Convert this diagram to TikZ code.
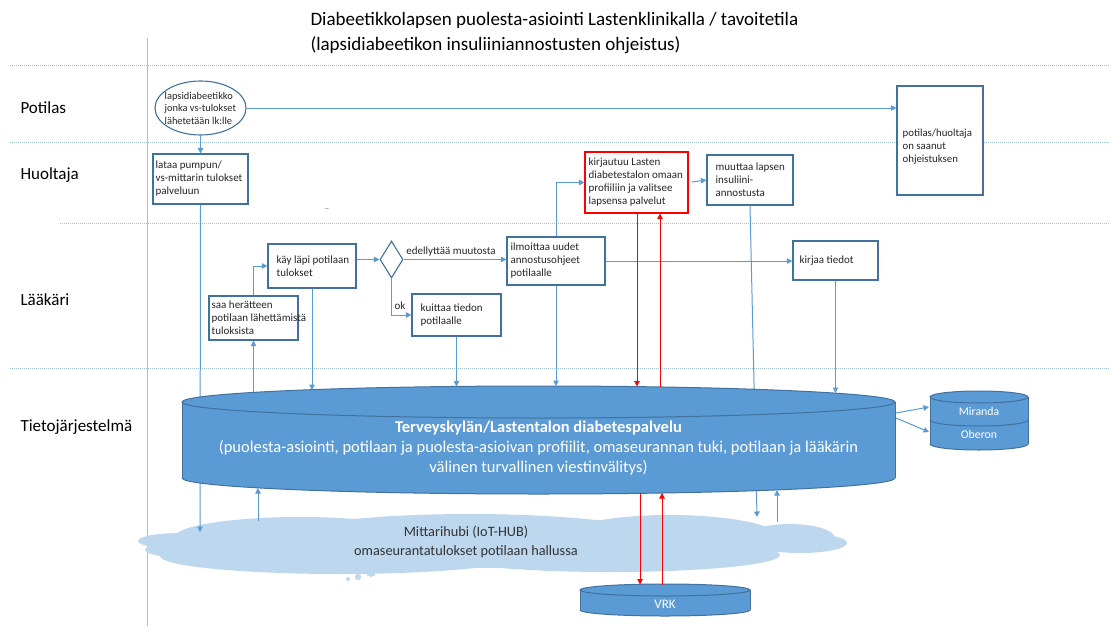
\documentclass[tikz,border=0pt]{standalone}
\usepackage{fontspec}
\setmainfont{Carlito}
\usetikzlibrary{arrows.meta,calc,shapes.geometric}
\definecolor{lanec}{HTML}{9DC3E6}
\definecolor{bxb}{HTML}{41719C}
\definecolor{arrowc}{HTML}{5B9BD5}
\definecolor{cylc}{HTML}{5B9BD5}
\definecolor{cylb}{HTML}{41719C}
\definecolor{cloudc}{HTML}{BDD7EE}
\definecolor{redc}{HTML}{FF0000}
\tikzset{
  lanesep/.style={draw=lanec, line width=1pt, dash pattern=on 1pt off 1pt},
  box/.style={draw=bxb, line width=1.1pt, fill=white, inner sep=0pt},
  boxtext/.style={anchor=west, align=left, inner sep=0pt, font=\fontsize{11}{13}\selectfont, text=black!85},
  flow/.style={draw=arrowc, line width=1pt, -{Triangle[length=5.5pt,width=5.5pt]}},
  redflow/.style={draw=redc, line width=1pt, -{Triangle[length=5.5pt,width=5.5pt]}},
  lanelabel/.style={anchor=west, font=\fontsize{17}{20}\selectfont},
  titletext/.style={anchor=west, font=\fontsize{19}{22}\selectfont},
  lbl/.style={font=\fontsize{11}{13}\selectfont, text=black!85},
  cyltext/.style={text=white, align=center},
}
\begin{document}
\begin{tikzpicture}[x=1pt,y=-1pt]
\useasboundingbox (0,0) rectangle (1115,626);

% title
\node[titletext] (title1) at (307,20) {Diabeetikkolapsen puolesta-asiointi Lastenklinikalla / tavoitetila};
\node[titletext] (title2) at (307,45) {(lapsidiabeetikon insuliiniannostusten ohjeistus)};

% lanes
\draw[lanesep] (10,65) -- (1110,65);
\draw[lanesep] (10,142) -- (1110,142);
\draw[lanesep] (60,223) -- (1110,223);
\draw[lanesep] (10,368) -- (1110,368);
\draw[draw=lanec, line width=0.9pt] (147,38) -- (147,626);

\node[lanelabel] (lpot) at (17,108) {Potilas};
\node[lanelabel] (lhuo) at (17,175) {Huoltaja};
\node[lanelabel] (llaa) at (17,300) {Lääkäri};
\node[lanelabel] (ltie) at (17,427) {Tietojärjestelmä};

% cloud
\begin{scope}[fill=cloudc]
\fill (180,541) ellipse [x radius=42, y radius=8];
\fill (300,537) ellipse [x radius=125, y radius=20];
\fill (470,541) ellipse [x radius=200, y radius=27];
\fill (670,538) ellipse [x radius=110, y radius=23];
\fill (790,538) ellipse [x radius=45, y radius=14];
\fill (800,543) ellipse [x radius=47, y radius=10];
\fill (340,556) ellipse [x radius=180, y radius=18];
\fill (610,555) ellipse [x radius=170, y radius=17];
\fill (220,550) ellipse [x radius=75, y radius=10];
\fill (348,579) circle [radius=2];
\fill (358,577) circle [radius=3.2];
\fill (371,572) circle [radius=5];
\end{scope}
\node[font=\fontsize{14.3}{19}\selectfont, align=center, text=black!80] (cloudtxt) at (466,542) {Mittarihubi (IoT-HUB)\\omaseurantatulokset potilaan hallussa};

% boxes
\node[box, ellipse, minimum width=91pt, minimum height=54pt] (ell) at (200.5,108) {};
\node[boxtext, font=\fontsize{10.4}{12.5}\selectfont] (ellT) at ([xshift=10pt]ell.west) {lapsidiabeetikko\\jonka vs-tulokset\\lähetetään lk:lle};
\node[box, minimum width=86pt, minimum height=109pt] (pot) at (940,140.5) {};
\node[boxtext, font=\fontsize{10.8}{13}\selectfont] (potT) at ([xshift=6pt,yshift=-6pt]pot.west) {potilas/huoltaja\\on saanut\\ohjeistuksen};
\node[box, minimum width=95pt, minimum height=50pt] (lataa) at (200.5,179) {};
\node[boxtext] (lataaT) at ([xshift=3pt]lataa.west) {lataa pumpun/\\vs-mittarin tulokset\\palveluun};
\node[box, draw=redc, minimum width=103pt, minimum height=61pt] (kirj) at (636.5,182.5) {};
\node[boxtext] (kirjT) at ([xshift=4pt]kirj.west) {kirjautuu Lasten\\diabetestalon omaan\\profiiliin ja valitsee\\lapsensa palvelut};
\node[box, minimum width=86pt, minimum height=50pt] (muut) at (750,180) {};
\node[boxtext] (muutT) at ([xshift=9pt]muut.west) {muuttaa lapsen\\insuliini-\\annostusta};
\node[box, minimum width=88pt, minimum height=44pt] (kay) at (312,266) {};
\node[boxtext] (kayT) at ([xshift=9pt]kay.west) {käy läpi potilaan\\tulokset};
\node[box, diamond, minimum width=23pt, minimum height=37pt] (dia) at (391.5,259.5) {};
\node[box, minimum width=89pt, minimum height=42pt] (kuit) at (456.5,315) {};
\node[boxtext] (kuitT) at ([xshift=9pt]kuit.west) {kuittaa tiedon\\potilaalle};
\node[box, minimum width=89pt, minimum height=44pt] (saa) at (253.5,318) {};
\node[boxtext] (saaT) at ([xshift=3pt]saa.west) {saa herätteen\\potilaan lähettämistä\\tuloksista};
\node[box, minimum width=98pt, minimum height=48pt] (ilm) at (556,261) {};
\node[boxtext] (ilmT) at ([xshift=4pt]ilm.west) {ilmoittaa uudet\\annostusohjeet\\potilaalle};
\node[box, minimum width=85pt, minimum height=39pt] (kir) at (835.5,260.5) {};
\node[boxtext] (kirT) at ([xshift=7pt]kir.west) {kirjaa tiedot};
\node[font=\fontsize{7}{8}\selectfont] (dots) at (327,209) {..};

\node[lbl] (lblmuutos) at (451,252) {edellyttää muutosta};
\node[lbl] (lblok) at (400,306) {ok};

% coordinates on cylinders / cloud
\coordinate (cloudA) at (200,532);
\coordinate (cloudB) at (757,517);
\coordinate (cloudC) at (258,521);
\coordinate (cloudD) at (777,522);
\coordinate (topSaa) at (253.5,392);
\coordinate (topKay) at (312,390);
\coordinate (topKuit) at (456.5,386.5);
\coordinate (topIlm) at (556,386);
\coordinate (topRedA) at (637,386.5);
\coordinate (topRedB) at (660,387);
\coordinate (topKir) at (835.5,393);
\coordinate (botC) at (258,488);
\coordinate (botD) at (777,490);
\coordinate (botRedA) at (640,493);
\coordinate (botRedB) at (662,493);
\coordinate (vrkA) at (640,584.5);
\coordinate (vrkB) at (662,584.5);
\coordinate (cylR1) at (896,413);
\coordinate (cylR2) at (896,418);
\coordinate (mirL) at (929,407);
\coordinate (obeL) at (929,432);

% lines passing behind the cylinder
\draw[flow] (lataa.south) -- (cloudA);
\draw[flow] (muut.south) -- (cloudB);

% main cylinder
\fill[cylc] (538.5,478) ellipse [x radius=356.5, y radius=16];
\fill[cylc] (182,402) rectangle (895,478);
\begin{scope}
\clip (170,478) rectangle (910,500);
\draw[cylb, line width=1pt] (538.5,478) ellipse [x radius=356.5, y radius=16];
\end{scope}
\draw[cylb, line width=1pt] (182,402) -- (182,478) (895,402) -- (895,478);
\filldraw[fill=cylc, draw=cylb, line width=1pt] (538.5,402) ellipse [x radius=356.5, y radius=16];
\node[cyltext, font=\fontsize{16.5}{20}\selectfont] (cyltxt) at (538.5,448) {{\bfseries Terveyskylän/Lastentalon diabetespalvelu}\\(puolesta-asiointi, potilaan ja puolesta-asioivan profiilit, omaseurannan tuki, potilaan ja lääkärin\\välinen turvallinen viestinvälitys)};

% Miranda / Oberon
\fill[cylc] (979,444) ellipse [x radius=49, y radius=6];
\fill[cylc] (930,397) rectangle (1028,444);
\begin{scope}
\clip (920,444) rectangle (1040,455);
\draw[cylb, line width=1pt] (979,444) ellipse [x radius=49, y radius=6];
\end{scope}
\begin{scope}
\clip (920,420) rectangle (1040,430);
\draw[cylb, line width=1pt] (979,420) ellipse [x radius=49, y radius=6];
\end{scope}
\draw[cylb, line width=1pt] (930,397) -- (930,444) (1028,397) -- (1028,444);
\filldraw[fill=cylc, draw=cylb, line width=1pt] (979,397) ellipse [x radius=49, y radius=6];
\node[cyltext, font=\fontsize{11.8}{14}\selectfont] (mir) at (979,411) {Miranda};
\node[cyltext, font=\fontsize{11.8}{14}\selectfont] (obe) at (979,434) {Oberon};

% VRK
\fill[cylc] (665,610) ellipse [x radius=85, y radius=6];
\fill[cylc] (580,590) rectangle (750,610);
\begin{scope}
\clip (570,610) rectangle (760,622);
\draw[cylb, line width=1pt] (665,610) ellipse [x radius=85, y radius=6];
\end{scope}
\draw[cylb, line width=1pt] (580,590) -- (580,610) (750,590) -- (750,610);
\filldraw[fill=cylc, draw=cylb, line width=1pt] (665,590) ellipse [x radius=85, y radius=6];
\node[cyltext, font=\fontsize{13}{15}\selectfont] (vrk) at (665,604) {VRK};

% connectors
\draw[flow] (ell.east) -- (ell.east -| pot.west);
\draw[flow] (ell.south) -- (lataa.north);
\draw[flow] (kay.east |- dia.west) -- (dia.west);
\draw[flow] (dia.east) -- (dia.east -| ilm.west);
\draw[flow] (dia.south) |- (kuit.west);
\draw[flow] (saa.north) |- (kay.west);
\draw[flow] (ilm.north) |- (kirj.west);
\draw[flow, shorten <=3pt] (kirj.east) -- (muut.west);
\draw[flow] (ilm.east) -- (ilm.east -| kir.west);
\draw[flow] (topSaa) -- (saa.south);
\draw[flow] (kay.south) -- (topKay);
\draw[flow] (kuit.south) -- (topKuit);
\draw[flow] (ilm.south) -- (topIlm);
\draw[flow] (kir.south) -- (topKir);
\draw[redflow] (kirj.south -| topRedA) -- (topRedA);
\draw[redflow] (topRedB) -- (kirj.south -| topRedB);
\draw[flow] (cloudC) -- (botC);
\draw[flow] (cloudD) -- (botD);
\draw[redflow] (botRedA) -- (vrkA);
\draw[redflow] (vrkB) -- (botRedB);
\draw[flow] (cylR1) -- (mirL);
\draw[flow] (cylR2) -- (obeL);
\end{tikzpicture}
\end{document}
